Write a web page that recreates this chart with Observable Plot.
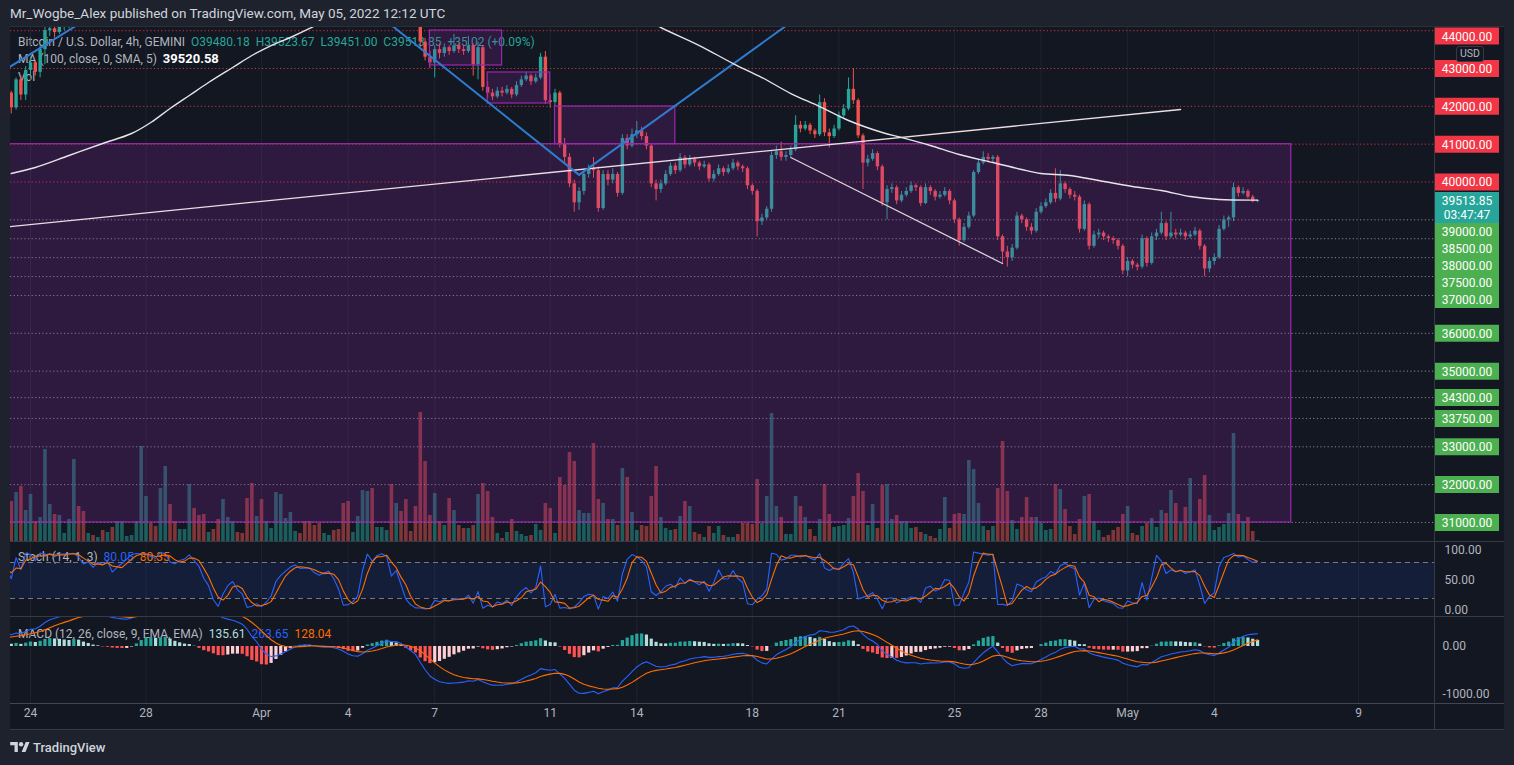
<!DOCTYPE html>
<html><head><meta charset="utf-8">
<script src="https://cdn.jsdelivr.net/npm/d3@7"></script>
<script src="https://cdn.jsdelivr.net/npm/@observablehq/plot@0.6"></script>
<style>
html,body{margin:0;padding:0;background:#1e222d;}
#root{position:relative;width:1514px;height:765px;overflow:hidden;background:#1e222d;font-family:Roboto,"Liberation Sans",sans-serif;}
.pane{position:absolute;overflow:hidden;}
.bg{position:absolute;background:#131722;}
.hl{position:absolute;height:1px;background:#2a2e39;}
.vl{position:absolute;width:1px;background:#363a45;}
.txt{position:absolute;white-space:nowrap;font-size:12px;line-height:14px;color:#b2b5be;}
.g{color:#26a69a}
</style></head>
<body><div id="root"></div>
<script>
// ---------------- DATA ----------------
// 4h candles, first candle Mar 17 2022 00:00 UTC (the first 38 are warm-up for the indicators, left of the view)
const T_START = Date.UTC(2022, 2, 17, 0);
const STEP = 4 * 3600 * 1000;
const FIRST_OPEN = 40950;
const closes = [
  41050,40900,41200,40800,40700,40950, 40600,40300,40500,41100,41500,41750,
  41900,41950,42100,42250,42150,42200, 42050,41900,41700,41500,41350,41250,
  41300,41100,40950,41200,41050,41000, 41300,42100,42600,42800,42550,42400,
  42200,42350,
  41960,42700,42300,42950,
  43150,42900,43500,44000,44050,43950, 44100,44150,44300,44900,44700,44400,
  44500,44400,44600,44500,44700,44600, 44700,44800,44900,45400,46200,46800,
  47100,47000,46900,47500,47900,47400, 47300,47500,47600,47900,47600,47400,
  47200,47300,47000,46800,47100,47300, 47400,47200,47100,46300,45500,45600,
  44800,45000,45300,46000,46300,46500, 46700,46800,46600,46500,46400,46200,
  46100,46200,46300,46100,45900,45600, 45300,45400,45600,46300,46700,46500,
  46700,46900,47000,46300,46500,46000, 45500,45300,45000,43700,43300,43150,
  43500,43400,43550,43450,43600,43500, 43450,43600,43100,43550,42500,42350,
  42250,42400,42350,42450,42300,42550, 42700,42800,42650,42750,43300,42150,
  42100,42350,41000,40650,39950,39450, 39750,40200,40350,40300,39300,40200,
  40050,40200,39700,41150,40950,41250, 41350,41200,40950,39950,39800,39950,
  40200,40420,40300,40640,40450,40600, 40500,40400,40450,40080,40200,40350,
  40250,40350,40500,40400,40350,39900, 39750,38950,39050,39280,40700,40800,
  40650,40700,40850,41500,41400,41500, 41350,41250,42100,41300,41200,41400,
  41750,41930,42450,42150,41220,40500, 40600,40750,40400,39450,39800,39850,
  39500,39650,39750,39900,39850,39430, 39850,39750,39600,39650,39750,39500,
  39000,38450,38800,39100,40250,40500, 40650,40600,40650,38550,38150,38000,
  38250,39100,39000,38800,38700,39200, 39350,39450,39700,39550,39950,39800,
  39650,39600,38750,39400,38300,38600, 38650,38550,38500,38450,38300,37650,
  37900,37800,37750,38500,37850,38550, 38650,38900,38550,38650,38600,38650,
  38550,38600,38700,38300,37700,37900, 38000,38750,39000,39050,39850,39700,
  39750,39600,39480.18,39513.85
];
const highs = [
  41150,41100,41300,41250,40900,41050, 41000,40700,40600,41200,41650,41850,
  42050,42100,42250,42400,42350,42300, 42250,42100,41950,41750,41550,41450,
  41400,41350,41150,41300,41250,41150, 41400,42250,42750,42950,42850,42650,
  42450,42450,
  42400,42750,42800,43050,
  43300,43200,43600,44150,44200,44150, 44250,44300,44450,45050,45000,44750,
  44600,44600,44700,44700,44800,44800, 44800,44900,45000,45500,46300,46950,
  47300,47200,47100,47600,48100,48000, 47500,47600,47700,48150,48000,47700,
  47450,47400,47400,47100,47200,47400, 47500,47450,47300,47150,46400,45800,
  45700,45150,45400,46150,46500,46650, 46900,47150,46900,46700,46600,46450,
  46300,46300,46400,46350,46150,45950, 45650,45500,45700,46400,46800,46750,
  46850,47000,47200,47050,46600,46550, 46050,45600,45400,45100,43800,43450,
  43600,43650,43650,43600,43900,43650, 43600,43850,43650,43700,43600,42650,
  42450,42500,42500,42550,42500,42650, 42800,42900,42850,42850,43400,43450,
  42300,42450,42400,41150,40750,40050, 39850,40300,40450,40650,40400,40300,
  40300,40350,40250,41250,41250,41400, 41600,41450,41300,41000,40050,40050,
  40300,40500,40500,40750,40700,40700, 40650,40550,40550,40500,40300,40450,
  40400,40450,40600,40550,40450,40400, 39950,39800,39150,39350,40800,40950,
  41050,40800,40950,41750,41600,41600, 41550,41400,42300,42200,41400,41500,
  41850,42050,42750,43000,42200,41270, 40700,40850,40800,40450,39900,39950,
  39900,39750,39850,40000,39950,39900, 39950,39900,39800,39750,39850,39800,
  39550,39050,38900,39200,40300,40600, 40800,40750,40700,40700,38600,38300,
  38350,39200,39150,39050,38900,39300, 39450,39550,39800,40350,40300,40000,
  39850,39750,39650,39500,39450,38700, 38750,38700,38600,38550,38500,38350,
  38000,37950,37850,38600,38550,38650, 38750,39200,38950,39200,38750,38750,
  38700,38700,38800,38750,38350,38000, 38100,38850,39100,39100,39970,39900,
  39850,39800,39650,39523.67
];
const lows = [
  40850,40800,40850,40700,40550,40650, 40500,40150,40200,40450,41000,41400,
  41650,41800,41850,42000,42050,42050, 41950,41800,41600,41400,41250,41100,
  41150,40950,40850,40900,40950,40900, 40950,41250,42050,42500,42450,42300,
  42100,42150,
  41800,41900,42150,42150,
  42750,42800,42750,43100,43850,43800, 43900,44000,44050,44250,44550,44300,
  44300,44300,44350,44400,44450,44500, 44500,44600,44700,44850,45300,46100,
  46700,46850,46750,46850,47400,47300, 47150,47250,47400,47500,47500,47300,
  47050,47100,46900,46700,46700,47000, 47200,47100,46950,46200,45300,45300,
  44600,44700,44900,45200,45900,46200, 46400,46600,46500,46400,46300,46100,
  46000,46000,46100,46000,45800,45450, 45100,45200,45300,45500,46200,46350,
  46450,46650,46850,46200,46200,45900, 45400,45150,44900,43550,43200,43000,
  42750,43250,43300,43350,43400,43400, 43350,43400,42800,42700,42400,42200,
  42150,42200,42250,42300,42200,42250, 42500,42650,42550,42600,42700,42050,
  41950,42000,40900,40500,39850,39200, 39250,39650,40100,40100,39200,39250,
  39900,39950,39600,39650,40850,40900, 41150,41100,40850,39850,39500,39700,
  39900,40150,40200,40250,40350,40400, 40400,40300,40350,40000,40000,40150,
  40150,40200,40300,40300,40250,39800, 39650,38550,38850,39000,39200,40600,
  40550,40550,40650,40800,41300,41350, 41250,41150,41200,41200,40900,41150,
  41350,41700,41880,42050,41150,39800, 40400,40550,40300,39350,39000,39700,
  39400,39450,39600,39700,39750,39350, 39400,39650,39500,39550,39600,39400,
  38900,38300,38400,38750,39050,40200, 40450,40500,40500,38450,37850,37750,
  37900,38200,38900,38700,38600,38650, 39150,39300,39400,39450,39500,39700,
  39550,39500,38650,38700,38200,38250, 38500,38450,38400,38350,38200,37550,
  37500,37700,37650,37700,37750,37800, 38450,38600,38450,38500,38500,38550,
  38450,38500,38550,38200,37500,37600, 37800,37950,38700,38800,38950,39600,
  39650,39550,39450,39451.00
];
// volume readings (relative bar heights), first reading is the Mar 23 08:00 candle
const VOL_FIRST = 38;
const volumes = [
  40, 49,55,31,47,20,24,92,37,27,26,8,22,82,
  35,30,8,6,4,11,9,14,20,20, 5,6,20,95,45,18,15,53,75,37,
  20,12,12,57,33,26,27,9,12,22, 42,24,20,9,8,43,58,25,42,20,
  13,49,47,23,29,10,8,20,20,16, 18,8,6,11,12,38,40,9,25,51,
  50,53,14,14,11,57,38,30,42,10, 35,129,80,26,48,20,16,43,31,16,
  13,13,16,47,58,50,24,8,3,9, 22,10,7,5,6,17,11,38,33,8,
  64,56,89,80,31,28,28,98,42,38, 22,22,16,73,64,29,11,16,15,45,
  75,24,13,11,12,25,40,35,9,7, 4,15,8,15,6,4,4,7,18,18,
  17,62,18,45,128,35,24,7,7,45, 35,24,12,5,22,57,27,14,15,16,
  23,45,68,50,16,37,13,56,57,22, 26,20,20,13,14,9,7,5,3,12,
  44,13,27,28,27,81,72,38,15,11, 15,53,100,50,21,12,24,44,24,24,
  18,11,12,57,52,32,15,7,22,45, 47,20,11,4,6,11,14,27,35,8,
  6,15,18,23,14,31,28,51,38,18, 34,63,18,42,66,26,11,14,17,28,
  108,27,20,24,10,1
];

// annotation positions use candle index counted from Mar 24 2022 00:00 UTC
const maIdx = [-4,1,8,15,21,25,29,33,37,42,46,50,54,58,66,81,98,114,125,131,139,146,152,158,164,170,177,181,187,193,200,206,210,216,222,229,235,241,247,255];
const maVal = [40225,40383,40700,41018,41282,41573,41943,42287,42630,43027,43344,43608,43820,44058,44600,45400,45600,45200,44500,44084,43608,43132,42762,42339,41995,41626,41308,41176,40965,40727,40515,40330,40225,40172,40040,39881,39775,39617,39537,39520.58];
const trendIdx = [-5, 239], trendVal = [38813, 41916];
const channelIdx = [158, 202], channelVal = [40648, 37846];
const blueVIdx = [71, 114, 161], blueVVal = [44550, 40188, 44494];
const blueTopIdx = [-5, 12], blueTopVal = [42987, 44330];
const boxStart = [83, 95, 109, -10], boxEnd = [98, 108, 134, 262];
const boxLow = [43080, 42075, 41000, 31000], boxHigh = [44005, 42895, 41996, 41000];
const resistance = [44000, 43000, 42000, 41000, 40000];
const support = [39000, 38500, 38000, 37500, 37000, 36000, 35000, 34300, 33750, 33000, 32000, 31000];
const lastPrice = 39513.85, countdown = "03:47:47";
const stochLevels = [20, 80], stochTicks = [0, 50, 100];
const macdTicks = [0, -1000];
const tickDates = ["2022-03-24","2022-03-28","2022-04-01","2022-04-04","2022-04-07","2022-04-11","2022-04-14","2022-04-18","2022-04-21","2022-04-25","2022-04-28","2022-05-01","2022-05-04","2022-05-09"];
const tickLabels = ["24","28","Apr","4","7","11","14","18","21","25","28","May","4","9"];

// ---------------- build tables ----------------
const T0 = Date.UTC(2022, 2, 24);
const at = i => new Date(T0 + i * STEP);
const ticks = tickDates.map(s => new Date(s));
const candles = closes.map((c, k) => {
  const open = k === 0 ? FIRST_OPEN : closes[k - 1];
  const v = k >= VOL_FIRST ? (volumes[k - VOL_FIRST] ?? 0) : 0;
  return {t: new Date(T_START + k * STEP), open, close: c, high: highs[k], low: lows[k], vol: v, up: c >= open};
});
// Stoch (14, 1, 3)
const K = candles.map((c, k) => {
  if (k < 13) return null;
  const w = candles.slice(k - 13, k + 1);
  const hh = d3.max(w, d => d.high), ll = d3.min(w, d => d.low);
  return 100 * (c.close - ll) / (hh - ll);
});
const D = K.map((v, k) => (k < 15 ? null : (K[k] + K[k - 1] + K[k - 2]) / 3));
const stoch = candles.map((c, k) => ({t: c.t, k: K[k], d: D[k]})).filter(d => d.d != null);
// MACD (12, 26, close, 9)
function ema(arr, n) { const a = 2 / (n + 1); let e = arr[0]; return arr.map((v, i) => i === 0 ? e : (e = a * v + (1 - a) * e)); }
const cl = candles.map(c => c.close);
const e12 = ema(cl, 12), e26 = ema(cl, 26);
const mLine = cl.map((_, i) => e12[i] - e26[i]);
const sLine = ema(mLine, 9);
const macd = candles.map((c, i) => ({t: c.t, m: mLine[i], s: sLine[i], h: mLine[i] - sLine[i]}));
macd.forEach((d, i) => {
  const prev = i ? macd[i - 1].h : d.h;
  d.col = d.h >= 0 ? (d.h >= prev ? "#26a69a" : "#b2dfdb") : (d.h >= prev ? "#ffcdd2" : "#ff5252");
});
const pts = (idx, val) => idx.map((i, j) => ({t: at(i), p: val[j]}));
const ma = pts(maIdx, maVal);
const boxes = boxStart.map((s, j) => ({t1: at(s), t2: at(boxEnd[j]), lo: boxLow[j], hi: boxHigh[j]}));

// ---------------- layout ----------------
const W = 1494, MR = 70;
const xDomain = [new Date(Date.UTC(2022, 2, 23, 7, 22)), new Date(Date.UTC(2022, 4, 11, 15, 5))];
const MAIN_H = 514, MAIN_Y = [30496.4, 44084.1];
const VOL_SCALE = 26.43;
const UP = "#26a69a", DN = "#ef5350";
const xOpt = {type: "utc", domain: xDomain, axis: null};
const baseStyle = {background: "transparent", fontFamily: "Roboto, 'Liberation Sans', sans-serif", fontSize: "12px", overflow: "hidden"};
const grid = Plot.ruleX(ticks, {stroke: "#2a2e39", strokeOpacity: 0.55});

const root = document.getElementById("root");
function add(tag, cls, css, html) { const e = document.createElement(tag); if (cls) e.className = cls; Object.assign(e.style, css); if (html != null) e.innerHTML = html; root.appendChild(e); return e; }
function place(el, left, top, w, h) { const d = add("div", "pane", {left: left + "px", top: top + "px", width: w + "px", height: h + "px"}); d.appendChild(el); return d; }

add("div", "bg", {left: "10px", top: "27px", width: "1494px", height: "702px"});
// header + legends (beneath the chart svg so the candles draw over them)
add("div", "txt", {left: "10px", top: "5px", fontSize: "13.5px", lineHeight: "16px", color: "#d1d4dc"}, "Mr_Wogbe_Alex published on TradingView.com, May 05, 2022 12:12 UTC");
add("div", "txt", {left: "18px", top: "35px"}, 'Bitcoin / U.S. Dollar, 4h, GEMINI&nbsp; <span class="g">O39480.18&nbsp; H39523.67&nbsp; L39451.00&nbsp; C39513.85&nbsp; +35.02 (+0.09%)</span>');
add("div", "txt", {left: "18px", top: "52px"}, 'MA (100, close, 0, SMA, 5)&nbsp; <span style="color:#ffffff;font-weight:700;font-size:13px">39520.58</span>');
add("div", "txt", {left: "18px", top: "70px"}, "Vol");

// main price pane
const main = Plot.plot({
  width: W, height: MAIN_H, marginLeft: 0, marginRight: MR, marginTop: 0, marginBottom: 0,
  x: xOpt, y: {domain: MAIN_Y, axis: null}, style: baseStyle,
  marks: [
    grid,
    Plot.ruleY(resistance, {stroke: "#f23645", strokeOpacity: 0.85, strokeDasharray: "1.2,2.4"}),
    Plot.ruleY(support, {stroke: "#d1d4dc", strokeOpacity: 0.6, strokeDasharray: "1.2,2.4"}),
    Plot.ruleX(candles, {x: "t", y1: MAIN_Y[0], y2: d => MAIN_Y[0] + d.vol * VOL_SCALE, stroke: d => d.up ? "rgba(38,166,154,0.5)" : "rgba(239,83,80,0.5)", strokeWidth: 3.6, clip: true}),
    Plot.ruleX(candles, {x: "t", y1: "low", y2: "high", stroke: d => d.up ? UP : DN, strokeWidth: 1, clip: true}),
    Plot.ruleX(candles, {x: "t", y1: "open", y2: "close", stroke: d => d.up ? UP : DN, strokeWidth: 3.4, clip: true}),
    Plot.rect(boxes, {x1: "t1", x2: "t2", y1: "lo", y2: "hi", fill: "#9c27b0", fillOpacity: 0.2, stroke: "#9c27b0", strokeWidth: 1.2, clip: true}),
    Plot.line(pts(trendIdx, trendVal), {x: "t", y: "p", stroke: "#eadde5", strokeWidth: 1.3, clip: true}),
    Plot.line(pts(channelIdx, channelVal), {x: "t", y: "p", stroke: "#dcd3da", strokeWidth: 1.3, clip: true}),
    Plot.line(pts(blueVIdx, blueVVal), {x: "t", y: "p", stroke: "#2e7bcf", strokeWidth: 2, clip: true}),
    Plot.line(pts(blueTopIdx, blueTopVal), {x: "t", y: "p", stroke: "#2e7bcf", strokeWidth: 2, clip: true}),
    Plot.line(ma, {x: "t", y: "p", stroke: "#e6e3ea", strokeWidth: 1.4, curve: "catmull-rom", clip: true})
  ]
});
place(main, 10, 27, W, MAIN_H);

// price axis labels with stacking like the original (kept inside the pane)
const yPix = d3.scaleLinear().domain(MAIN_Y).range([MAIN_H, 0]);
const lab = [
  ...resistance.map(p => ({p, txt: p.toFixed(2), col: "#f23645", h: 17})),
  {p: lastPrice, txt: lastPrice.toFixed(2) + "\n" + countdown, col: "#26a69a", h: 31},
  ...support.map(p => ({p, txt: p.toFixed(2), col: "#4caf50", h: 17}))
].sort((a, b) => b.p - a.p);
let bottom = 0;
for (const l of lab) {
  const top = Math.max(yPix(l.p) - 8.5, bottom);
  bottom = top + l.h;
  l.yc = yPix.invert(top + l.h / 2);
}
const small = lab.filter(l => l.h === 17), big = lab.filter(l => l.h !== 17);
const axisCol = Plot.plot({
  width: 70, height: MAIN_H, marginLeft: 0, marginRight: 5, marginTop: 0, marginBottom: 0,
  y: {domain: MAIN_Y, axis: null}, style: baseStyle,
  marks: [
    Plot.tickY(small, {y: "yc", stroke: "col", strokeWidth: 17}),
    Plot.tickY(big, {y: "yc", stroke: "col", strokeWidth: 31}),
    Plot.text(lab, {y: "yc", text: "txt", fill: "#ffffff", fontSize: 12, lineHeight: 1.17})
  ]
});
place(axisCol, 1434, 27, 70, MAIN_H);
add("div", "", {position: "absolute", left: "1456px", top: "46px", width: "26px", height: "14px", border: "1px solid #363a45", borderRadius: "3px", background: "#131722", color: "#b2b5be", fontSize: "10.5px", lineHeight: "14px", textAlign: "center"}, "USD");

// stochastic pane
add("div", "txt", {left: "18px", top: "550px"}, 'Stoch (14, 1, 3)&nbsp; <span style="color:#2962ff">80.05</span>&nbsp; <span style="color:#ff6d00">80.35</span>');
const stochPlot = Plot.plot({
  width: W, height: 74, marginLeft: 0, marginRight: MR, marginTop: 0, marginBottom: 0,
  x: xOpt, y: {domain: [-10, 113.33], axis: null}, style: baseStyle,
  marks: [
    grid,
    Plot.rect([stochLevels], {x1: () => xDomain[0], x2: () => xDomain[1], y1: d => d[0], y2: d => d[1], fill: "#2962ff", fillOpacity: 0.1}),
    Plot.ruleY(stochLevels, {stroke: "#787b86", strokeDasharray: "5,4"}),
    Plot.line(stoch, {x: "t", y: "k", stroke: "#2962ff", strokeWidth: 1.1, clip: true}),
    Plot.line(stoch, {x: "t", y: "d", stroke: "#ff6d00", strokeWidth: 1.1, clip: true}),
    Plot.text(stochTicks, {y: d => d, text: d => d.toFixed(2), frameAnchor: "right", dx: 10, textAnchor: "start", fill: "#b2b5be", fontSize: 12})
  ]
});
place(stochPlot, 10, 542, W, 74);

// MACD pane + time axis
add("div", "txt", {left: "18px", top: "627px"}, 'MACD (12, 26, close, 9, EMA, EMA)&nbsp; <span style="color:#b2dfdb">135.61</span>&nbsp; <span style="color:#2962ff">263.65</span>&nbsp; <span style="color:#ff6d00">128.04</span>');
const macdPlot = Plot.plot({
  width: W, height: 112, marginLeft: 0, marginRight: MR, marginTop: 0, marginBottom: 26,
  x: xOpt, y: {domain: [-1187.5, 604.17], axis: null}, style: baseStyle,
  marks: [
    grid,
    Plot.ruleX(macd, {x: "t", y1: 0, y2: "h", stroke: "col", strokeWidth: 3.2, clip: true}),
    Plot.line(macd, {x: "t", y: "m", stroke: "#2962ff", strokeWidth: 1.1, clip: true}),
    Plot.line(macd, {x: "t", y: "s", stroke: "#ff6d00", strokeWidth: 1.1, clip: true}),
    Plot.text(macdTicks, {y: d => d, text: d => d.toFixed(2), frameAnchor: "right", dx: 8, textAnchor: "start", fill: "#b2b5be", fontSize: 12}),
    Plot.text(ticks, {x: d => d, text: (d, i) => tickLabels[i], frameAnchor: "bottom", dy: 13, fill: "#b2b5be", fontSize: 12})
  ]
});
place(macdPlot, 10, 617, W, 112);

// pane separators
add("div", "hl", {left: "10px", top: "26px", width: "1494px"});
add("div", "hl", {left: "10px", top: "541px", width: "1494px", background: "#363a45"});
add("div", "hl", {left: "10px", top: "616px", width: "1494px", background: "#363a45"});
add("div", "hl", {left: "10px", top: "703px", width: "1494px", background: "#434651"});
add("div", "hl", {left: "10px", top: "729px", width: "1494px", background: "#363a45"});
add("div", "vl", {left: "1434px", top: "27px", height: "702px"});

// footer
add("div", "txt", {left: "10px", top: "740px", fontSize: "13px", lineHeight: "15px", color: "#d1d4dc", fontWeight: "500"},
  '<svg width="20" height="12" viewBox="0 0 36 22" style="vertical-align:-1px;margin-right:3px"><path d="M14 20H8V8H0V2h14zM28 20h-7l7.5-18h7z" fill="#d1d4dc"/><circle cx="20" cy="6" r="4" fill="#d1d4dc"/></svg>TradingView');
</script></body></html>
